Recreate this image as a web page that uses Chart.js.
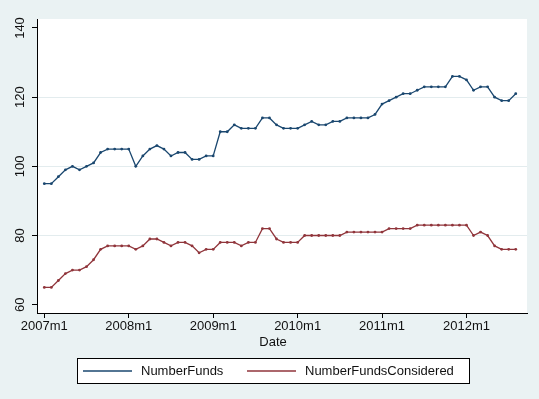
<!DOCTYPE html>
<html>
<head>
<meta charset="utf-8">
<script src="https://cdn.jsdelivr.net/npm/chart.js@4.4.1/dist/chart.umd.min.js"></script>
<style>
  html, body { margin: 0; padding: 0; background: #eaf2f3; }
  #wrap { width: 539px; height: 399px; }
</style>
</head>
<body>
<div id="wrap"><canvas id="c" width="539" height="399"></canvas></div>
<script>
// ── Data (monthly, 2007m1 .. 2012m8) ─────────────────────────────
const numberFunds = [
  95, 95, 97, 99, 100, 99, 100, 101, 104, 105, 105, 105, 105,
  100, 103, 105, 106, 105, 103, 104, 104, 102, 102, 103, 103,
  110, 110, 112, 111, 111, 111, 114, 114, 112, 111, 111, 111,
  112, 113, 112, 112, 113, 113, 114, 114, 114, 114, 115, 118,
  119, 120, 121, 121, 122, 123, 123, 123, 123, 126, 126, 125, 122,
  123, 123, 120, 119, 119, 121
];
const numberFundsConsidered = [
  65, 65, 67, 69, 70, 70, 71, 73, 76, 77, 77, 77, 77,
  76, 77, 79, 79, 78, 77, 78, 78, 77, 75, 76, 76,
  78, 78, 78, 77, 78, 78, 82, 82, 79, 78, 78, 78,
  80, 80, 80, 80, 80, 80, 81, 81, 81, 81, 81, 81,
  82, 82, 82, 82, 83, 83, 83, 83, 83, 83, 83, 83, 80,
  81, 80, 77, 76, 76, 76
];
const seriesNames = ['NumberFunds', 'NumberFundsConsidered'];
const seriesColors = ['#1a476f', '#90353b'];
const xTickPos = [0, 12, 24, 36, 48, 60];
const xTickLabels = ['2007m1', '2008m1', '2009m1', '2010m1', '2011m1', '2012m1'];
const yTicks = [60, 80, 100, 120, 140];
const xTitle = 'Date';

const FONT = "'Liberation Sans', Arial, sans-serif";

// white plot region behind the chart area
const plotBg = {
  id: 'plotBg',
  beforeDraw(chart) {
    const { ctx, chartArea: a } = chart;
    ctx.save();
    ctx.fillStyle = '#ffffff';
    ctx.fillRect(a.left, a.top, a.right - a.left, a.bottom - a.top);
    ctx.restore();
  }
};

// vertical y labels, axis title and boxed legend (Stata style)
const decorations = {
  id: 'decorations',
  afterDraw(chart) {
    const { ctx } = chart;
    const y = chart.scales.y;
    ctx.save();
    ctx.fillStyle = '#111';
    ctx.font = '13px ' + FONT;
    yTicks.forEach(v => {
      const py = y.getPixelForValue(v);
      ctx.save();
      ctx.translate(24, py);
      ctx.rotate(-Math.PI / 2);
      ctx.textAlign = 'center';
      ctx.textBaseline = 'alphabetic';
      ctx.fillText(String(v), 0, 0);
      ctx.restore();
    });

    ctx.textAlign = 'center';
    ctx.textBaseline = 'middle';
    ctx.fillText(xTitle, 273, 342);

    // legend box
    ctx.fillStyle = '#ffffff';
    ctx.fillRect(77.5, 358.5, 392, 25);
    ctx.strokeStyle = '#000';
    ctx.lineWidth = 1;
    ctx.strokeRect(77.5, 358.5, 392, 25);
    const entries = [[83, 141], [247, 305]];
    chart.data.datasets.forEach((ds, i) => {
      const [lx, tx] = entries[i];
      ctx.strokeStyle = ds.borderColor;
      ctx.lineWidth = 1.3;
      ctx.beginPath();
      ctx.moveTo(lx, 371);
      ctx.lineTo(lx + 49, 371);
      ctx.stroke();
      ctx.fillStyle = '#111';
      ctx.textAlign = 'left';
      ctx.fillText(ds.label, tx, 371);
    });
    ctx.restore();
  }
};

const mk = (vals, i) => ({
  label: seriesNames[i],
  data: vals.map((v, k) => ({ x: k, y: v })),
  borderColor: seriesColors[i],
  backgroundColor: seriesColors[i],
  borderWidth: 1.3,
  pointRadius: 1.4,
  pointBorderWidth: 0,
  tension: 0
});

new Chart(document.getElementById('c'), {
  type: 'line',
  data: { datasets: [mk(numberFunds, 0), mk(numberFundsConsidered, 1)] },
  options: {
    responsive: false,
    animation: false,
    devicePixelRatio: 1,
    layout: { padding: { top: 19, right: 12, left: 0, bottom: 0 } },
    plugins: { legend: { display: false }, tooltip: { enabled: false } },
    scales: {
      x: {
        type: 'linear',
        min: -1.04,
        max: 68.6,
        afterFit: s => { s.height = 86; },
        afterBuildTicks: s => { s.ticks = xTickPos.map(v => ({ value: v })); },
        grid: { drawOnChartArea: false, tickLength: 5, tickColor: '#000' },
        border: { color: '#000', width: 1 },
        ticks: {
          padding: 1,
          maxRotation: 0,
          autoSkip: false,
          color: '#111',
          font: { family: FONT, size: 13 },
          callback: v => xTickLabels[xTickPos.indexOf(v)]
        }
      },
      y: {
        min: 57.6,
        max: 142.6,
        afterFit: s => { s.width = 37; },
        afterBuildTicks: s => { s.ticks = yTicks.map(v => ({ value: v })); },
        grid: {
          color: c => (c.tick && (c.tick.value === 60 || c.tick.value === 140)) ? 'rgba(0,0,0,0)' : '#e3ecee',
          tickLength: 5,
          tickColor: '#000'
        },
        border: { color: '#000', width: 1 },
        ticks: { display: false }
      }
    }
  },
  plugins: [plotBg, decorations]
});
</script>
</body>
</html>
